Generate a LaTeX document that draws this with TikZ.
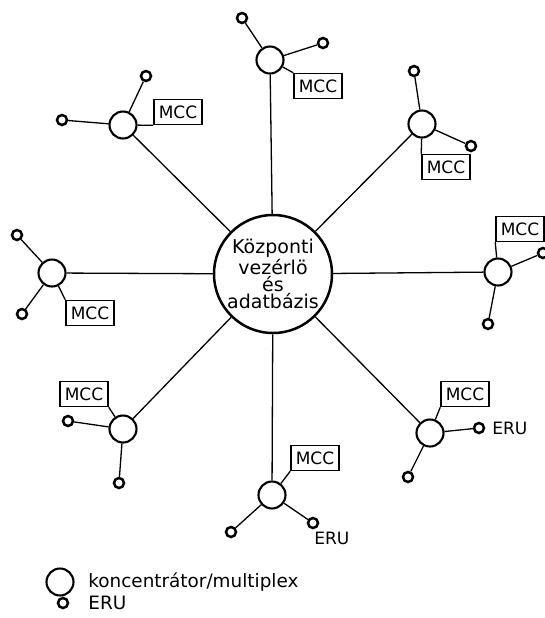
\documentclass[tikz,border=0pt]{standalone}
\usepackage{fontspec}
\setmainfont{DejaVu Sans}

\begin{document}
\begin{tikzpicture}[x=0.5pt, y=-0.5pt,
  hub/.style={circle, draw, line width=1.25pt, minimum size=59pt, inner sep=0pt,
    align=center, font=\fontsize{9.5}{8.5}\selectfont},
  conc/.style={circle, draw, line width=1.05pt, minimum size=13.5pt, inner sep=0pt},
  eru/.style={circle, draw, line width=1.25pt, minimum size=5pt, inner sep=0pt},
  mcc/.style={draw, line width=0.75pt, minimum width=24pt, minimum height=12.5pt,
    inner sep=0pt, font=\fontsize{8.5}{9}\selectfont},
  link/.style={line width=0.65pt},
  txt/.style={anchor=west, inner sep=0pt, font=\fontsize{8.5}{9}\selectfont}]
  \useasboundingbox (0,0) rectangle (545,618);
  % Central unit
  \node[hub] (hub) at (273,274) {Központi\\vezérlö\\és\\adatbázis};
  % Concentrators
  \node[conc] (cT)  at (270,60)  {};
  \node[conc] (cTR) at (422,124) {};
  \node[conc] (cR)  at (498,272) {};
  \node[conc] (cBR) at (430,433) {};
  \node[conc] (cB)  at (272,495) {};
  \node[conc] (cBL) at (123,429) {};
  \node[conc] (cL)  at (52,273)  {};
  \node[conc] (cTL) at (123,125) {};
  % MCC boxes
  \node[mcc] (mT)  at (318,86)  {MCC};
  \node[mcc] (mTR) at (446,167) {MCC};
  \node[mcc] (mR)  at (520,229) {MCC};
  \node[mcc] (mBR) at (465,394) {MCC};
  \node[mcc] (mB)  at (315,458) {MCC};
  \node[mcc] (mBL) at (84,394)  {MCC};
  \node[mcc] (mL)  at (90,313)  {MCC};
  \node[mcc] (mTL) at (178,112) {MCC};
  % ERUs
  \node[eru] (eT1)  at (242,18)  {};
  \node[eru] (eT2)  at (323,43)  {};
  \node[eru] (eTR1) at (414,71)  {};
  \node[eru] (eTR2) at (471,146) {};
  \node[eru] (eR1)  at (543,253) {};
  \node[eru] (eR2)  at (488,324) {};
  \node[eru] (eBR1) at (479,428) {};
  \node[eru] (eBR2) at (408,477) {};
  \node[eru] (eB1)  at (231,532) {};
  \node[eru] (eB2)  at (313,523) {};
  \node[eru] (eBL1) at (68,421)  {};
  \node[eru] (eBL2) at (119,483) {};
  \node[eru] (eL1)  at (17,235)  {};
  \node[eru] (eL2)  at (22,314)  {};
  \node[eru] (eTL1) at (62,120)  {};
  \node[eru] (eTL2) at (146,76)  {};
  \node[txt] (lBR) at (492,428) {ERU};
  \node[txt] (lB)  at (314,538) {ERU};
  % Spokes
  \draw[link] (hub) -- (cT);
  \draw[link] (hub) -- (cTR);
  \draw[link] (hub) -- (cR);
  \draw[link] (hub) -- (cBR);
  \draw[link] (hub) -- (cB);
  \draw[link] (hub) -- (cBL);
  \draw[link] (hub) -- (cL);
  \draw[link] (hub) -- (cTL);
  % Local links
  \draw[link] (cT) -- (mT.north west);
  \draw[link] (cT) -- (eT1);
  \draw[link] (cT) -- (eT2);
  \draw[link] (cTR) -- (mTR.north west);
  \draw[link] (cTR) -- (eTR1);
  \draw[link] (cTR) -- (eTR2);
  \draw[link] (cR) -- (mR.south west);
  \draw[link] (cR) -- (eR1);
  \draw[link] (cR) -- (eR2);
  \draw[link] (cBR) -- (mBR.south west);
  \draw[link] (cBR) -- (eBR1);
  \draw[link] (cBR) -- (eBR2);
  \draw[link] (cB) -- (mB.south west);
  \draw[link] (cB) -- (eB1);
  \draw[link] (cB) -- (eB2);
  \draw[link] (cBL) -- (mBL.south east);
  \draw[link] (cBL) -- (eBL1);
  \draw[link] (cBL) -- (eBL2);
  \draw[link] (cL) -- (mL.north west);
  \draw[link] (cL) -- (eL1);
  \draw[link] (cL) -- (eL2);
  \draw[link] (cTL) -- (mTL.south west);
  \draw[link] (cTL) -- (eTL1);
  \draw[link] (cTL) -- (eTL2);
  % Legend
  \node[conc] (lgC) at (60,582) {};
  \node[eru]  (lgE) at (63,603) {};
  \node[txt, font=\fontsize{9.2}{10}\selectfont] (lgCt) at (88,582) {koncentrátor/multiplex};
  \node[txt, font=\fontsize{9.2}{10}\selectfont] (lgEt) at (88,603) {ERU};
\end{tikzpicture}
\end{document}
